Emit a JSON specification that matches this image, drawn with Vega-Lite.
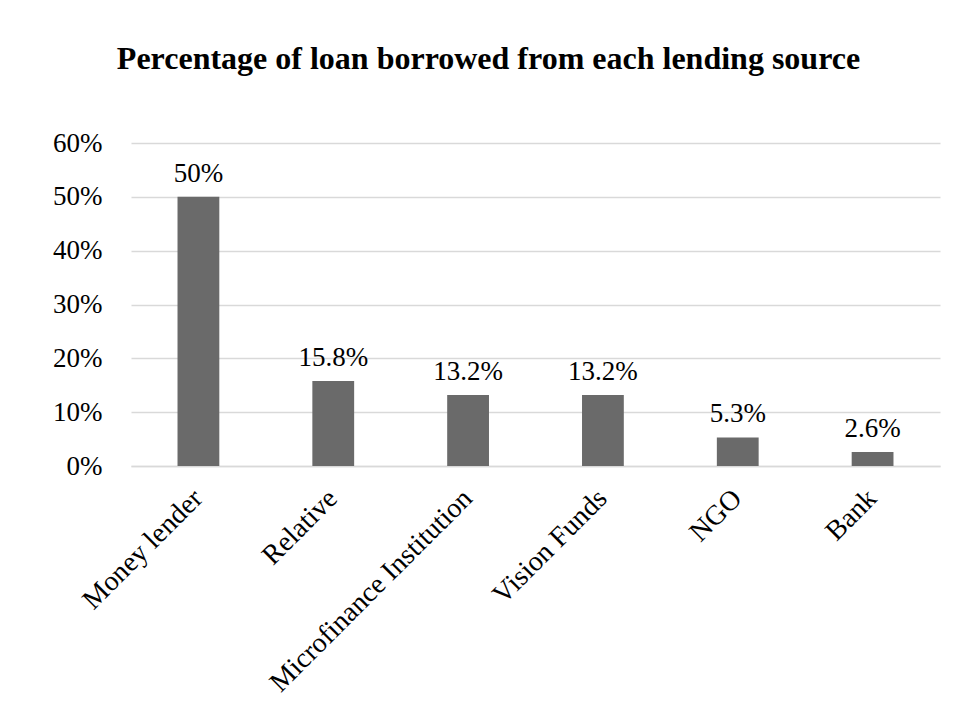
{
  "$schema": "https://vega.github.io/schema/vega-lite/v6.json",
  "autosize": "none",
  "width": 809,
  "height": 323,
  "padding": {"left": 131, "top": 143, "right": 16, "bottom": 238},
  "background": "white",
  "config": {"view": {"stroke": null}, "font": "Liberation Serif"},
  "title": {
    "text": "Percentage of loan borrowed from each lending source",
    "font": "Liberation Serif",
    "fontSize": 32,
    "fontWeight": "bold",
    "color": "black",
    "anchor": "middle",
    "dx": -47,
    "offset": 28,
    "baseline": "alphabetic"
  },
  "data": {
    "values": [
      {"source": "Money lender", "pct": 0.50, "label": "50%"},
      {"source": "Relative", "pct": 0.158, "label": "15.8%"},
      {"source": "Microfinance Institution", "pct": 0.132, "label": "13.2%"},
      {"source": "Vision Funds", "pct": 0.132, "label": "13.2%"},
      {"source": "NGO", "pct": 0.053, "label": "5.3%"},
      {"source": "Bank", "pct": 0.026, "label": "2.6%"}
    ]
  },
  "encoding": {
    "x": {
      "field": "source",
      "type": "nominal",
      "sort": null,
      "title": null,
      "scale": {"paddingInner": 0.69, "paddingOuter": 0.345},
      "axis": {
        "labelAngle": -45,
        "labelFontSize": 28,
        "labelColor": "black",
        "labelFont": "Liberation Serif",
        "labelAlign": "right",
        "labelBaseline": "middle",
        "labelPadding": 28,
        "labelLimit": 0,
        "ticks": false,
        "domainColor": "#d9d9d9",
        "domainWidth": 1.5
      }
    },
    "y": {
      "field": "pct",
      "type": "quantitative",
      "title": null,
      "scale": {"domain": [0, 0.6]},
      "axis": {
        "format": ".0%",
        "values": [0, 0.1, 0.2, 0.3, 0.4, 0.5, 0.6],
        "labelFontSize": 27,
        "labelColor": "black",
        "labelFont": "Liberation Serif",
        "labelPadding": 29,
        "ticks": false,
        "domain": false,
        "gridColor": "#d9d9d9",
        "gridWidth": 1.5
      }
    }
  },
  "layer": [
    {"mark": {"type": "bar", "color": "#6a6a6a"}},
    {
      "mark": {"type": "text", "dy": -23, "fontSize": 27, "font": "Liberation Serif", "color": "black"},
      "encoding": {"text": {"field": "label"}}
    }
  ]
}
